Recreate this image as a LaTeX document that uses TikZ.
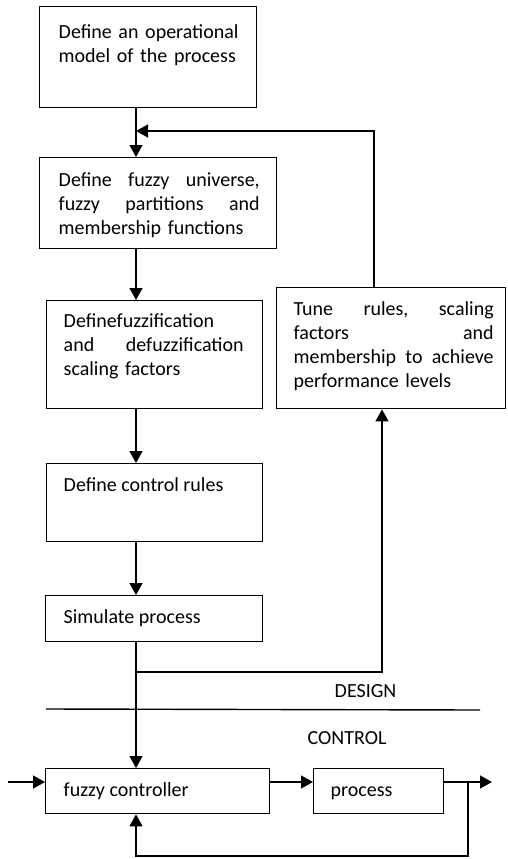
\documentclass[tikz,border=0pt]{standalone}
\usepackage{fontspec}
\setmainfont{Carlito}
\usetikzlibrary{arrows.meta}
\begin{document}
\begin{tikzpicture}[x=1pt,y=-1pt, line width=1.4pt,
  box/.style={draw, line width=1.4pt, anchor=north west, inner sep=0pt},
  txt/.style={inner sep=0pt, anchor=north west, font=\fontsize{20}{24}\selectfont, align=left},
  stxt/.style={inner sep=0pt, anchor=base west, font=\fontsize{20}{24}\selectfont},
  arr/.style={-{Triangle[length=12pt,width=13pt]}}]
\useasboundingbox (0,0) rectangle (507,859);
% boxes
\node[box, minimum width=217pt, minimum height=101pt] (b1) at (39,6) {};
\node[box, minimum width=237pt, minimum height=91pt] (b2) at (39,157) {};
\node[box, minimum width=216pt, minimum height=108pt] (b3) at (46,300) {};
\node[box, minimum width=216pt, minimum height=78pt] (b4) at (46,463) {};
\node[box, minimum width=217pt, minimum height=46pt] (sim) at (45,595) {};
\node[box, minimum width=229pt, minimum height=121pt] (tune) at (276,287) {};
\node[box, minimum width=224pt, minimum height=45pt] (ctl) at (45,768) {};
\node[box, minimum width=130pt, minimum height=45pt] (proc) at (313,768) {};
% texts
\node[txt, text width=201pt] (t1) at (58,20.9) {\strut Define an operational\\ model of the process};
\node[txt, text width=201pt] (t2) at (58,169.2) {\strut Define\hfill fuzzy\hfill universe,\\ fuzzy\hfill partitions\hfill and\\ membership functions};
\node[txt, text width=180pt] (t3) at (63,310.2) {\strut Definefuzzification\\ and\hfill defuzzification\\ scaling factors};
\node[stxt] (t4) at (63,491) {Define control rules};
\node[txt, text width=200pt] (tt) at (293,298.2) {\strut Tune\hfill rules,\hfill scaling\\ factors\hfill and\\ membership\hfill to\hfill achieve\\ performance levels};
\node[stxt] (ts) at (63,623) {Simulate process};
\node[stxt] (tc) at (63,796) {fuzzy controller};
\node[stxt] (tp) at (330,796) {process};
\node[stxt] (design) at (334,697) {DESIGN};
\node[stxt] (control) at (307,744) {CONTROL};
% helper coordinates
\coordinate (cx) at (136,0);
\coordinate (br) at (136,672);
\coordinate (tx) at (382,0);
\coordinate (fx) at (374,0);
\coordinate (fy) at (0,131);
\coordinate (s1) at (46,709);
\coordinate (s2) at (480,710);
\coordinate (in) at (8,782);
\coordinate (out) at (492,782);
\coordinate (ox) at (468,0);
\coordinate (by) at (0,856);
% connectors
\draw[arr] (b1.south -| cx) -- (b2.north -| cx);
\draw[arr] (b2.south -| cx) -- (b3.north -| cx);
\draw[arr] (b3.south -| cx) -- (b4.north -| cx);
\draw[arr] (b4.south -| cx) -- (sim.north -| cx);
\draw[arr] (sim.south -| cx) -- (ctl.north -| cx);
\draw[arr] (br) -- (br -| tx) -- (tune.south -| tx);
\draw[arr] (tune.north -| fx) -- (fx |- fy) -- (cx |- fy);
\draw (s1) -- (s2);
\draw[arr] (in) -- (in -| ctl.west);
\draw[arr] (ctl.east |- in) -- (proc.west |- in);
\draw[arr] (proc.east |- out) -- (out);
\draw[arr] (ox |- out) -- (ox |- by) -- (cx |- by) -- (ctl.south -| cx);
\end{tikzpicture}
\end{document}
